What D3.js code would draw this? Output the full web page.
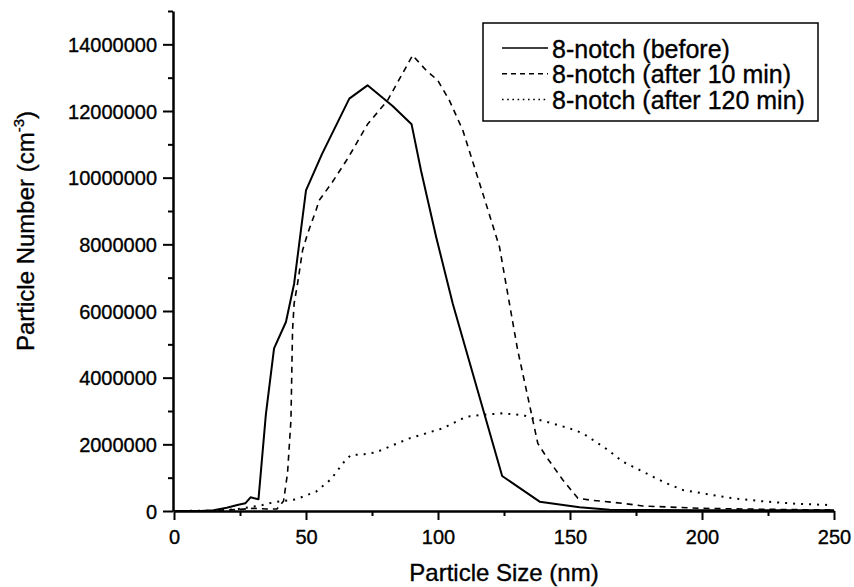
<!DOCTYPE html>
<html><head><meta charset="utf-8">
<script src="https://cdn.jsdelivr.net/npm/d3@7"></script>
<style>
body{margin:0;background:#fff}
svg{display:block}
text{font-family:"Liberation Sans",Arial,Helvetica,sans-serif;fill:#000;stroke:#000;stroke-width:0.35px}
</style>
</head><body>
<svg id="chart" width="854" height="587"></svg>
<script>
// ---- data ----
const seriesNames = ["8-notch (before)", "8-notch (after 10 min)", "8-notch (after 120 min)"];

const sizeBefore = [0,10,15,20,24,27,29,32,34.8,37.9,42.4,45.5,50,56,66.4,73.3,82.8,90,93.6,99.3,105.6,115.7,119.5,124.3,138.5,153.6,165,180,200,250];
const numBefore  = [0,0,20000,100000,180000,230000,410000,350000,2900000,4880000,5670000,6820000,9620000,10700000,12370000,12770000,12150000,11600000,10200000,8220000,6220000,3430000,2380000,1050000,280000,110000,40000,30000,20000,20000];

const size10 = [0,15,25,30,35,39,41.5,43,44.3,44.9,45.5,46.8,48.7,50.6,53.8,55,60,66,73.3,80.9,90.4,95.5,99.9,104.3,109.4,117,123.3,126.4,130.2,134,137.8,141,147.3,153,157.4,170,177.5,200,225,250];
const num10  = [0,0,50000,80000,60000,60000,300000,1130000,2730000,5420000,6220000,6820000,7820000,8320000,9020000,9320000,9870000,10600000,11600000,12320000,13670000,13220000,12920000,12320000,11420000,9520000,7920000,6520000,4820000,3430000,2030000,1630000,930000,380000,330000,230000,150000,80000,50000,30000];

const size120 = [0,15,23.4,28.5,33.5,36,39.2,46.2,53.8,59.4,64.5,67,72,76.5,81.6,89.2,95.5,101.8,106.9,110.7,116.3,124,132.1,135.9,141,149.8,154.9,158.7,164.4,170,175.1,181.4,186.5,192.8,201.7,211.8,224.4,237.1,248.5];
const num120  = [0,10000,50000,110000,180000,230000,280000,350000,580000,950000,1480000,1680000,1700000,1760000,1930000,2180000,2330000,2480000,2680000,2830000,2880000,2930000,2880000,2780000,2680000,2480000,2330000,2130000,1830000,1480000,1280000,1030000,830000,630000,510000,380000,280000,210000,180000];

const xTicks = [0,50,100,150,200,250];
const xMinorTicks = [25,75,125,175,225];
const yTicks = [0,2000000,4000000,6000000,8000000,10000000,12000000,14000000];
const yMinorTicks = [1000000,3000000,5000000,7000000,9000000,11000000,13000000,15000000];

const xTitle = "Particle Size (nm)";
const yTitleMain = "Particle Number (cm";
const yTitleSup = "-3";

// ---- chart ----
const svg = d3.select("#chart");
const x = d3.scaleLinear().domain([0,250]).range([174,834]);
const y = d3.scaleLinear().domain([0,15000000]).range([511,11]);

const styles = [
  {dash:null, w:2},
  {dash:"6,5", w:1.6},
  {dash:"2,6", w:2}
];
const legendDash = [null, "5,4", "1.6,3.6"];

const series = [
  d3.zip(sizeBefore, numBefore),
  d3.zip(size10, num10),
  d3.zip(size120, num120)
];

const line = d3.line().x(d => x(d[0])).y(d => y(d[1]));

svg.append("g").selectAll("path").data(series).join("path")
  .attr("d", line)
  .attr("fill","none")
  .attr("stroke","#000")
  .attr("stroke-width",(d,i)=>styles[i].w)
  .attr("stroke-dasharray",(d,i)=>styles[i].dash)
  .attr("stroke-linejoin","round");

// x axis
const gx = svg.append("g").attr("transform","translate(0,511)");
gx.call(d3.axisBottom(x).tickValues(xTicks).tickSize(9).tickSizeOuter(0).tickPadding(0).tickFormat(d3.format("d")));
gx.select(".domain").attr("stroke-width",2.5);
gx.selectAll(".tick line").attr("stroke-width",2);
gx.selectAll(".tick text").attr("font-size",20).attr("y",33).attr("dy",0);
const gxm = svg.append("g").attr("transform","translate(0,511)");
gxm.call(d3.axisBottom(x).tickValues(xMinorTicks).tickSize(5).tickFormat(""));
gxm.select(".domain").remove();
gxm.selectAll(".tick line").attr("stroke-width",2);

// y axis
const gy = svg.append("g").attr("transform","translate(173,0)");
gy.call(d3.axisLeft(y).tickValues(yTicks).tickSize(10).tickSizeOuter(0).tickPadding(6).tickFormat(d3.format("d")));
gy.select(".domain").attr("stroke-width",2.5);
gy.selectAll(".tick line").attr("stroke-width",2);
gy.selectAll(".tick text").attr("font-size",20).attr("dy","0.36em");
const gym = svg.append("g").attr("transform","translate(173,0)");
gym.call(d3.axisLeft(y).tickValues(yMinorTicks).tickSize(5).tickFormat(""));
gym.select(".domain").remove();
gym.selectAll(".tick line").attr("stroke-width",2);
svg.selectAll(".domain").attr("stroke","#000");

// axis titles
svg.append("text").attr("x",504).attr("y",581).attr("text-anchor","middle")
  .attr("font-size",24).text(xTitle);
const yt = svg.append("text").attr("transform","translate(34,231) rotate(-90)")
  .attr("text-anchor","middle").attr("font-size",24);
yt.append("tspan").text(yTitleMain);
yt.append("tspan").attr("font-size",15).attr("dy",-10).text(yTitleSup);
yt.append("tspan").attr("dy",10).text(")");

// legend
const lg = svg.append("g");
lg.append("rect").attr("x",483).attr("y",23).attr("width",335).attr("height",98)
  .attr("fill","#fff").attr("stroke","#000").attr("stroke-width",1.5);
const rowBase = [57.5,83.3,109];
seriesNames.forEach((name,i)=>{
  lg.append("line").attr("x1",502).attr("x2",548)
    .attr("y1",rowBase[i]-9.5).attr("y2",rowBase[i]-9.5)
    .attr("stroke","#000").attr("stroke-width",i===0?1.6:1.4)
    .attr("stroke-dasharray",legendDash[i]);
  lg.append("text").attr("x",552).attr("y",rowBase[i]).attr("font-size",25).text(name);
});
</script>
</body></html>
